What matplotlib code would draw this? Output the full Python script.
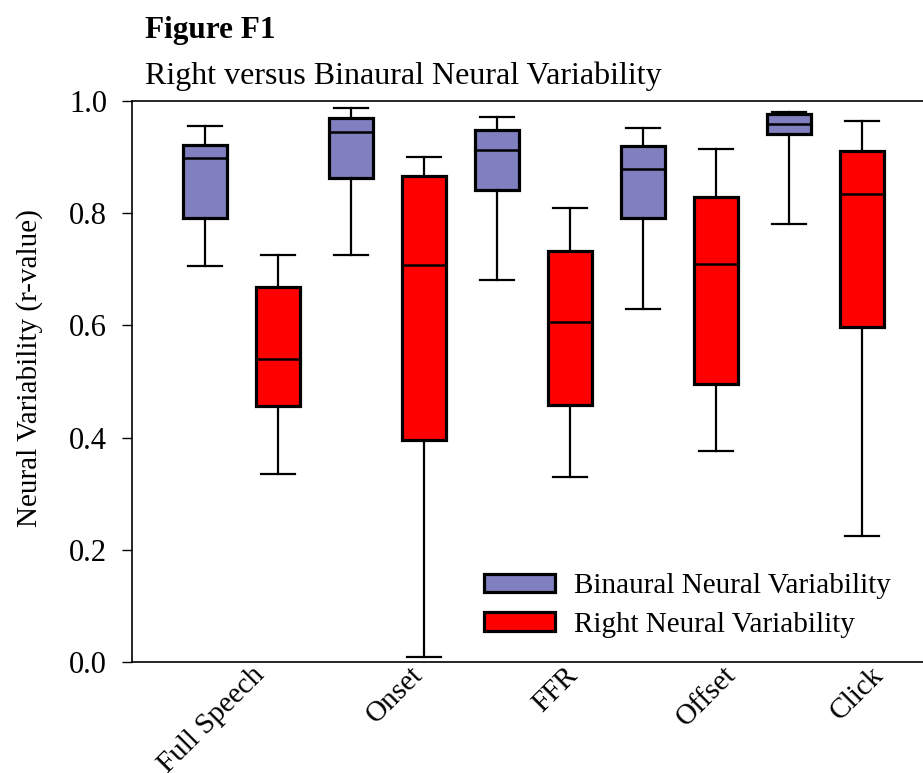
import matplotlib
matplotlib.use("Agg")
import matplotlib.pyplot as plt
from matplotlib.patches import Patch

plt.rcParams['font.family'] = ['Liberation Serif', 'DejaVu Serif']

# Categories and box statistics (r-values)
categories = ['Full Speech', 'Onset', 'FFR', 'Offset', 'Click']

bin_low = [0.706, 0.726, 0.681, 0.630, 0.781]
bin_q1 = [0.791, 0.862, 0.841, 0.792, 0.942]
bin_med = [0.898, 0.945, 0.913, 0.878, 0.959]
bin_q3 = [0.922, 0.970, 0.948, 0.920, 0.976]
bin_high = [0.955, 0.987, 0.971, 0.952, 0.980]

right_low = [0.336, 0.009, 0.329, 0.377, 0.225]
right_q1 = [0.456, 0.396, 0.458, 0.496, 0.597]
right_med = [0.541, 0.708, 0.606, 0.709, 0.834]
right_q3 = [0.668, 0.867, 0.732, 0.829, 0.911]
right_high = [0.725, 0.900, 0.810, 0.914, 0.964]

# where the rotated category labels sit along the x axis
label_pos = [0.19, 1.28, 2.34, 3.42, 4.43]

bin_color = '#8080c0'
right_color = '#ff0000'


def make_stats(lo, q1, med, q3, hi):
    return [dict(whislo=a, q1=b, med=c, q3=d, whishi=e, fliers=[])
            for a, b, c, d, e in zip(lo, q1, med, q3, hi)]


fig = plt.figure(figsize=(9.23, 7.73), dpi=100)
ax = fig.add_axes([0.143, 0.1436, 0.857, 0.7257])

idx = range(len(categories))
for stats, off, color in [
        (make_stats(bin_low, bin_q1, bin_med, bin_q3, bin_high), -0.25, bin_color),
        (make_stats(right_low, right_q1, right_med, right_q3, right_high), 0.25, right_color)]:
    ax.bxp(stats, positions=[i + off for i in idx], widths=0.305,
           capwidths=0.23, patch_artist=True, showfliers=False,
           boxprops=dict(facecolor=color, edgecolor='black', linewidth=2.3),
           medianprops=dict(color='black', linewidth=1.8),
           whiskerprops=dict(color='black', linewidth=1.6),
           capprops=dict(color='black', linewidth=1.6),
           manage_ticks=False)

ax.set_xlim(-0.75, 4.668)
ax.set_ylim(0, 1.0)
ax.set_yticks([0.0, 0.2, 0.4, 0.6, 0.8, 1.0])
ax.set_yticklabels(['0.0', '0.2', '0.4', '0.6', '0.8', '1.0'])
ax.tick_params(axis='y', direction='out', length=7, width=1, pad=11, labelsize=22)

ax.set_xticks(label_pos)
ax.set_xticklabels(categories, rotation=45, ha='right', fontsize=21)
ax.tick_params(axis='x', length=0, pad=0)

ax.spines['right'].set_visible(False)
for s in ['left', 'bottom', 'top']:
    ax.spines[s].set_linewidth(1.2)

ax.set_ylabel('Neural Variability (r-value)', fontsize=21)
ax.yaxis.set_label_coords(-0.112, 0.524)

handles = [Patch(facecolor=bin_color, edgecolor='black', linewidth=2.3),
           Patch(facecolor=right_color, edgecolor='black', linewidth=2.3)]
ax.legend(handles, ['Binaural Neural Variability', 'Right Neural Variability'],
          loc='upper left', bbox_to_anchor=(0.445, 0.158), frameon=False,
          fontsize=21, handlelength=2.45, handleheight=0.6,
          handletextpad=0.65, labelspacing=0.42, borderpad=0, borderaxespad=0)

fig.text(0.157, 0.951, 'Figure F1', fontsize=22.5, fontweight='bold', va='baseline')
fig.text(0.157, 0.891, 'Right versus Binaural Neural Variability', fontsize=23, va='baseline')

fig.savefig('out.png', dpi=100)
